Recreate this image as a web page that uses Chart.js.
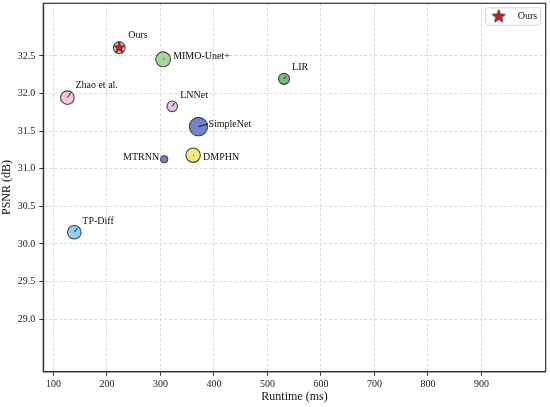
<!DOCTYPE html>
<html>
<head>
<meta charset="utf-8">
<script src="https://cdn.jsdelivr.net/npm/chart.js@4.4.1/dist/chart.umd.min.js"></script>
<style>
  html, body { margin: 0; padding: 0; background: #fff; }
  #wrap { width: 550px; height: 407px; }
</style>
</head>
<body>
<div id="wrap"><canvas id="chart" width="550" height="407"></canvas></div>
<script>
// ===== data =====
const methods   = ['Ours', 'MIMO-Unet+', 'LIR', 'Zhao et al.', 'LNNet', 'SimpleNet', 'DMPHN', 'MTRNN', 'TP-Diff'];
const runtimes  = [223, 305, 531, 126, 322, 371, 361, 307, 139];
const psnrs     = [32.61, 32.455, 32.195, 31.945, 31.83, 31.56, 31.18, 31.125, 30.155];
const bubbleR   = [5.8, 7.4, 5.5, 6.8, 5.3, 9.2, 7.2, 3.5, 6.8];
const xTicks    = [100, 200, 300, 400, 500, 600, 700, 800, 900];
const yTicks    = [29.0, 29.5, 30.0, 30.5, 31.0, 31.5, 32.0, 32.5];

// ===== styles =====
const fills = ['#f4dcdc', '#a6d89b', '#72bf75', '#f8c6d1', '#e9c3e3', '#6f84cc', '#f3ea7a', '#8a78c0', '#8fd0f2'];
// label offsets from point centre (px) and length of the little pointer line
const labelDx  = [9, 10, 8, 8, 8, 10, 10, -5, 8];
const labelDy  = [-12, -2.6, -11, -12, -11, -2.7, 2, -2, -11];
const labelAln = ['left', 'left', 'left', 'left', 'left', 'left', 'left', 'right', 'left'];
const lineLen  = [0, 1, 3, 6, 4, 10, 1, 0, 5];

const serif = '"Liberation Serif", "DejaVu Serif", serif';

function makeStar(size, outer, inner) {
    const c = document.createElement('canvas');
    c.width = size; c.height = size;
    const g = c.getContext('2d');
    g.beginPath();
    for (let i = 0; i < 10; i++) {
        const r = i % 2 === 0 ? outer : inner;
        const a = -Math.PI / 2 + i * Math.PI / 5;
        const px = size / 2 + r * Math.cos(a);
        const py = size / 2 + r * Math.sin(a);
        if (i === 0) g.moveTo(px, py); else g.lineTo(px, py);
    }
    g.closePath();
    g.fillStyle = '#e8141c';
    g.fill();
    g.lineWidth = 0.9;
    g.strokeStyle = '#222';
    g.stroke();
    return c;
}
const starImg = makeStar(14, 5.8, 2.4);
const legendStar = makeStar(16, 6.8, 2.8);

// ===== plugins =====
const frameAndLabels = {
    id: 'frameAndLabels',
    afterDatasetsDraw(chart) {
        const ctx = chart.ctx;
        const meta = chart.getDatasetMeta(1);
        ctx.save();
        meta.data.forEach((pt, i) => {
            const dx = labelDx[i], dy = labelDy[i];
            const d = Math.hypot(dx, dy);
            if (lineLen[i] > 0) {
                ctx.beginPath();
                ctx.moveTo(pt.x, pt.y);
                ctx.lineTo(pt.x + dx / d * lineLen[i], pt.y + dy / d * lineLen[i]);
                ctx.lineWidth = 1;
                ctx.strokeStyle = '#111';
                ctx.stroke();
            }
            ctx.font = '10px ' + serif;
            ctx.fillStyle = '#111';
            ctx.textAlign = labelAln[i];
            ctx.textBaseline = 'middle';
            ctx.fillText(methods[i], pt.x + dx, pt.y + dy);
        });
        ctx.restore();
    },
    afterDraw(chart) {
        const ctx = chart.ctx;
        const a = chart.chartArea;
        ctx.save();
        ctx.strokeStyle = '#333';
        ctx.lineWidth = 1.2;
        ctx.strokeRect(a.left, a.top, a.right - a.left, a.bottom - a.top);

        // legend box
        const lx = a.right - 60, ly = a.top + 4.5, lw = 55, lh = 17.5;
        ctx.beginPath();
        ctx.roundRect(lx, ly, lw, lh, 2);
        ctx.fillStyle = 'rgba(255,255,255,0.8)';
        ctx.fill();
        ctx.strokeStyle = '#d4d4d4';
        ctx.lineWidth = 1;
        ctx.stroke();
        ctx.drawImage(legendStar, lx + 13 - 8, ly + lh / 2 - 8);
        ctx.font = '10px ' + serif;
        ctx.fillStyle = '#111';
        ctx.textAlign = 'left';
        ctx.textBaseline = 'middle';
        ctx.fillText(methods[0], lx + 32, ly + lh / 2);
        ctx.restore();
    }
};

// ===== chart =====
const points = methods.map((m, i) => ({ x: runtimes[i], y: psnrs[i], r: bubbleR[i] }));

new Chart(document.getElementById('chart'), {
    type: 'bubble',
    data: {
        datasets: [
            {
                label: methods[0],
                data: [{ x: runtimes[0], y: psnrs[0], r: 6 }],
                pointStyle: starImg
            },
            {
                label: 'methods',
                data: points,
                backgroundColor: fills,
                borderColor: '#444',
                borderWidth: 1.1
            }
        ]
    },
    options: {
        responsive: false,
        animation: false,
        devicePixelRatio: 1,
        layout: { autoPadding: false, padding: { top: 3.3, right: 4.3, left: 0, bottom: 0 } },
        plugins: {
            legend: { display: false },
            tooltip: { enabled: false }
        },
        scales: {
            x: {
                type: 'linear',
                min: 81,
                max: 1020,
                afterBuildTicks: s => { s.ticks = xTicks.map(v => ({ value: v })); },
                afterFit: s => { s.height = 35.3; s.paddingLeft = 0; s.paddingRight = 0; },
                ticks: {
                    font: { family: serif, size: 10 },
                    color: '#222',
                    padding: 3,
                    maxRotation: 0,
                    callback: v => String(v)
                },
                grid: { color: '#d2d2d2', lineWidth: 0.8, tickColor: '#333', tickLength: 4, tickWidth: 1 },
                border: { color: '#333', width: 1.2, dash: [3, 2] },
                title: {
                    display: true,
                    text: 'Runtime (ms)',
                    font: { family: serif, size: 12 },
                    color: '#111',
                    padding: { top: 0, bottom: 3.3 }
                }
            },
            y: {
                type: 'linear',
                min: 28.3,
                max: 33.2,
                afterBuildTicks: s => { s.ticks = yTicks.map(v => ({ value: v })); },
                afterFit: s => { s.width = 43.3; s.paddingTop = 0; s.paddingBottom = 0; },
                ticks: {
                    font: { family: serif, size: 10 },
                    color: '#222',
                    padding: 4,
                    callback: v => Number(v).toFixed(1)
                },
                grid: { color: '#d2d2d2', lineWidth: 0.8, tickColor: '#333', tickLength: 4, tickWidth: 1 },
                border: { color: '#333', width: 1.2, dash: [3, 2] },
                title: {
                    display: true,
                    text: 'PSNR (dB)',
                    font: { family: serif, size: 12 },
                    color: '#111',
                    padding: { top: 0, bottom: 0 }
                }
            }
        }
    },
    plugins: [frameAndLabels]
});
</script>
</body>
</html>
